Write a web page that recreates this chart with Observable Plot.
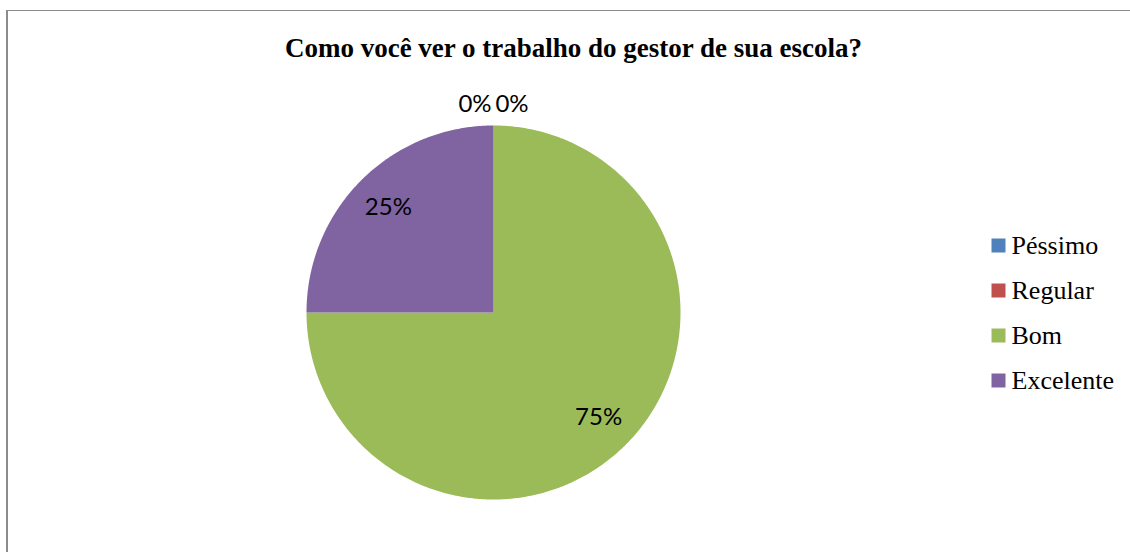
<!DOCTYPE html>
<html><head><meta charset="utf-8">
<script src="https://cdn.jsdelivr.net/npm/d3@7"></script>
<script src="https://cdn.jsdelivr.net/npm/@observablehq/plot@0.6"></script>
<style>
body{margin:0;background:#fff;}
#wrap{position:relative;width:1130px;height:552px;overflow:hidden;background:#fff;}
#frame{position:absolute;left:6px;top:10px;width:1200px;height:600px;border-left:2px solid #8c8c8c;border-top:1px solid #8c8c8c;pointer-events:none;}
#chart{position:absolute;left:0;top:0;}
</style></head>
<body>
<div id="wrap"><div id="chart"></div><div id="frame"></div></div>
<script>
const title = "Como você ver o trabalho do gestor de sua escola?";
const categories = ["Péssimo", "Regular", "Bom", "Excelente"];
const values = [0, 0, 75, 25];
const labels = ["0%", "0%", "75%", "25%"];
const colors = ["#4F81BD", "#C0504D", "#9BBB59", "#8064A2"];

const W = 1130, H = 552;
const cx = 493, cy = 312, R = 187;

const rows = categories.map((c, i) => ({cat: c, value: values[i], label: labels[i]}));
const arcs = d3.pie().sort(null).value(d => d.value).startAngle(0).endAngle(2 * Math.PI)(rows);

const pt = (a, r) => [cx + r * Math.sin(a), cy - r * Math.cos(a)];

// slice outlines derived from the pie angles
const slicePts = [];
for (const a of arcs) {
  if (a.data.value <= 0) continue;
  const n = Math.max(2, Math.ceil((a.endAngle - a.startAngle) / (Math.PI / 360)));
  slicePts.push({cat: a.data.cat, x: cx, y: cy});
  for (let k = 0; k <= n; k++) {
    const t = a.startAngle + (a.endAngle - a.startAngle) * k / n;
    const [x, y] = pt(t, R);
    slicePts.push({cat: a.data.cat, x, y});
  }
}

// label positions
const zeros = arcs.filter(a => a.data.value <= 0);
const labelPts = arcs.map(a => {
  if (a.data.value > 0) {
    const m = (a.startAngle + a.endAngle) / 2;
    const [x, y] = pt(m, R * 0.795);
    return {x, y, text: a.data.label};
  }
  const k = zeros.indexOf(a);
  const [x, y] = pt(a.startAngle, R * 1.115);
  return {x: x + (k - (zeros.length - 1) / 2) * 37, y, text: a.data.label};
});

const legendRows = categories.map((c, i) => ({cat: c, x: 998, y: 245 + i * 45}));

const chart = Plot.plot({
  width: W, height: H,
  margin: 0,
  x: {type: "identity", axis: null},
  y: {type: "identity", axis: null},
  color: {domain: categories, range: colors},
  style: {background: "transparent"},
  marks: [
    Plot.text([title], {x: () => 573, y: () => 48, text: d => d, fontSize: 27, fontWeight: "bold", fontFamily: "Liberation Serif", fill: "#000"}),
    Plot.line(slicePts, {x: "x", y: "y", z: "cat", fill: "cat", stroke: "none"}),
    Plot.text(labelPts, {x: "x", y: "y", text: "text", fontSize: 24, fontFamily: "Lato", fill: "#000"}),
    Plot.dot(legendRows, {x: "x", y: "y", fill: "cat", symbol: "square", r: 7.9, stroke: "none"}),
    Plot.text(legendRows, {x: d => d.x + 13, y: "y", text: "cat", textAnchor: "start", fontSize: 26, fontFamily: "Liberation Serif", fill: "#000"})
  ]
});
document.getElementById("chart").appendChild(chart);
</script>
</body></html>
